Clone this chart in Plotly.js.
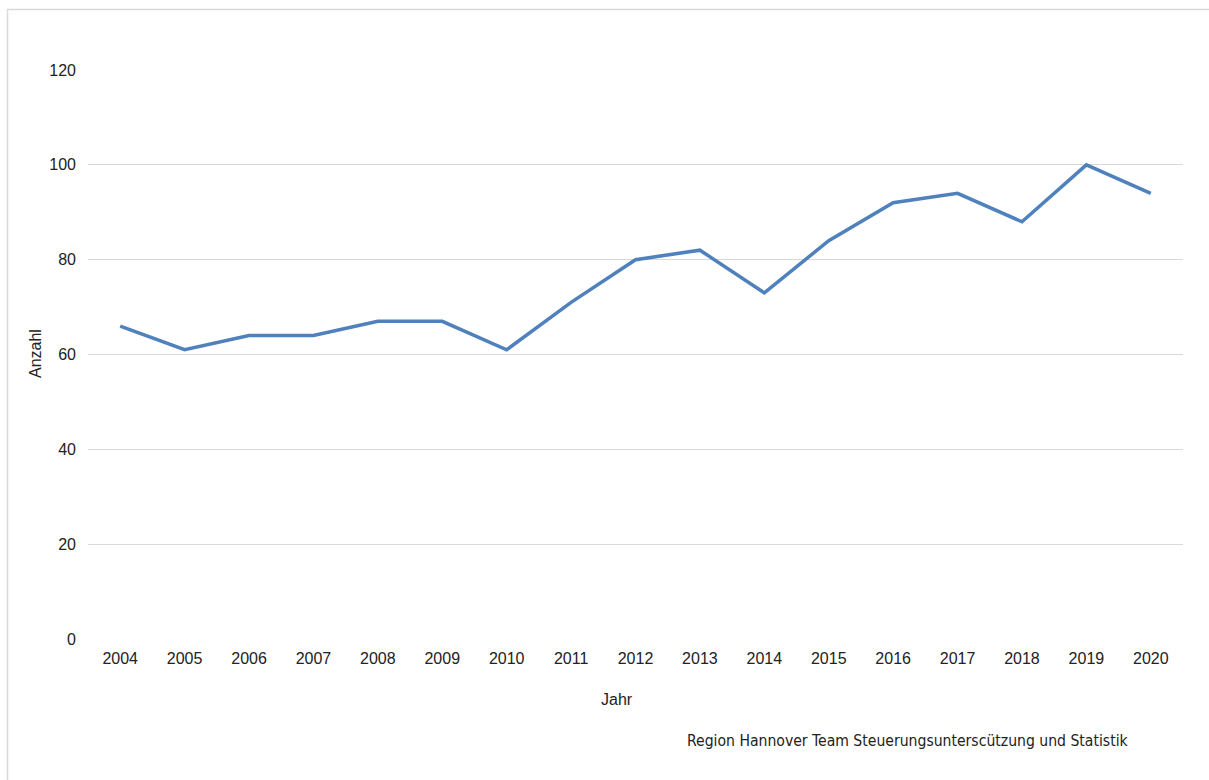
<!DOCTYPE html>
<html>
<head>
<meta charset="utf-8">
<script src="https://cdn.plot.ly/plotly-3.0.1.min.js"></script>
<style>
html,body{margin:0;padding:0;background:#fff;}
#chart{width:1209px;height:780px;}
</style>
</head>
<body>
<div id="chart"></div>
<script>
const years = ["2004","2005","2006","2007","2008","2009","2010","2011","2012","2013","2014","2015","2016","2017","2018","2019","2020"];
const anzahl = [66,61,64,64,67,67,61,71,80,82,73,84,92,94,88,100,94];
const yTicks = [0,20,40,60,80,100,120];

const L=88, R=1183, T=70, B=639;
const W=R-L, H=B-T;
const px = x => (x-L)/W;
const py = y => (B-y)/H;

const trace = {
  x: years, y: anzahl, type: 'scatter', mode: 'lines',
  line: {color: '#4f81bd', width: 3.5},
  hoverinfo: 'x+y'
};

const layout = {
  width: 1209, height: 780,
  margin: {l: L, r: 1209-R, t: T, b: 780-B, pad: 0},
  paper_bgcolor: '#ffffff', plot_bgcolor: '#ffffff',
  font: {family: 'Liberation Sans, Arial, sans-serif', size: 16, color: '#222'},
  showlegend: false,
  xaxis: {
    type: 'category', range: [-0.5, years.length - 0.5],
    showgrid: false, zeroline: false, showline: false,
    ticks: '', ticklabelstandoff: 8,
    tickfont: {size: 16, color: '#222'}
  },
  yaxis: {
    range: [0, 120], tickvals: yTicks, ticktext: yTicks.map(String),
    showgrid: true, gridcolor: '#d9d9d9', gridwidth: 1,
    zeroline: false, showline: false, ticks: '', ticklabelstandoff: 11,
    tickfont: {size: 16, color: '#222'}
  },
  annotations: [
    {text: 'Jahr', xref: 'paper', yref: 'paper', x: px(617), y: py(699),
     xanchor: 'center', yanchor: 'middle', showarrow: false,
     font: {size: 16, color: '#222'}},
    {text: 'Anzahl', xref: 'paper', yref: 'paper', x: px(35), y: py(354),
     xanchor: 'center', yanchor: 'middle', textangle: -90, showarrow: false,
     font: {size: 16, color: '#222'}},
    {text: 'Region Hannover Team Steuerungsunterscützung und Statistik',
     xref: 'paper', yref: 'paper', x: px(685), y: py(741),
     xanchor: 'left', yanchor: 'middle', showarrow: false,
     font: {family: 'DejaVu Sans Condensed, DejaVu Sans, sans-serif', size: 15.6, color: '#222'}}
  ],
  shapes: [
    {type: 'rect', xref: 'paper', yref: 'paper',
     x0: px(7.5), x1: px(1260), y0: py(820), y1: py(9.5),
     line: {color: '#d9d9d9', width: 1.5}, fillcolor: 'rgba(0,0,0,0)', layer: 'below'}
  ]
};

Plotly.newPlot('chart', [trace], layout, {displayModeBar: false, staticPlot: true});
</script>
</body>
</html>
